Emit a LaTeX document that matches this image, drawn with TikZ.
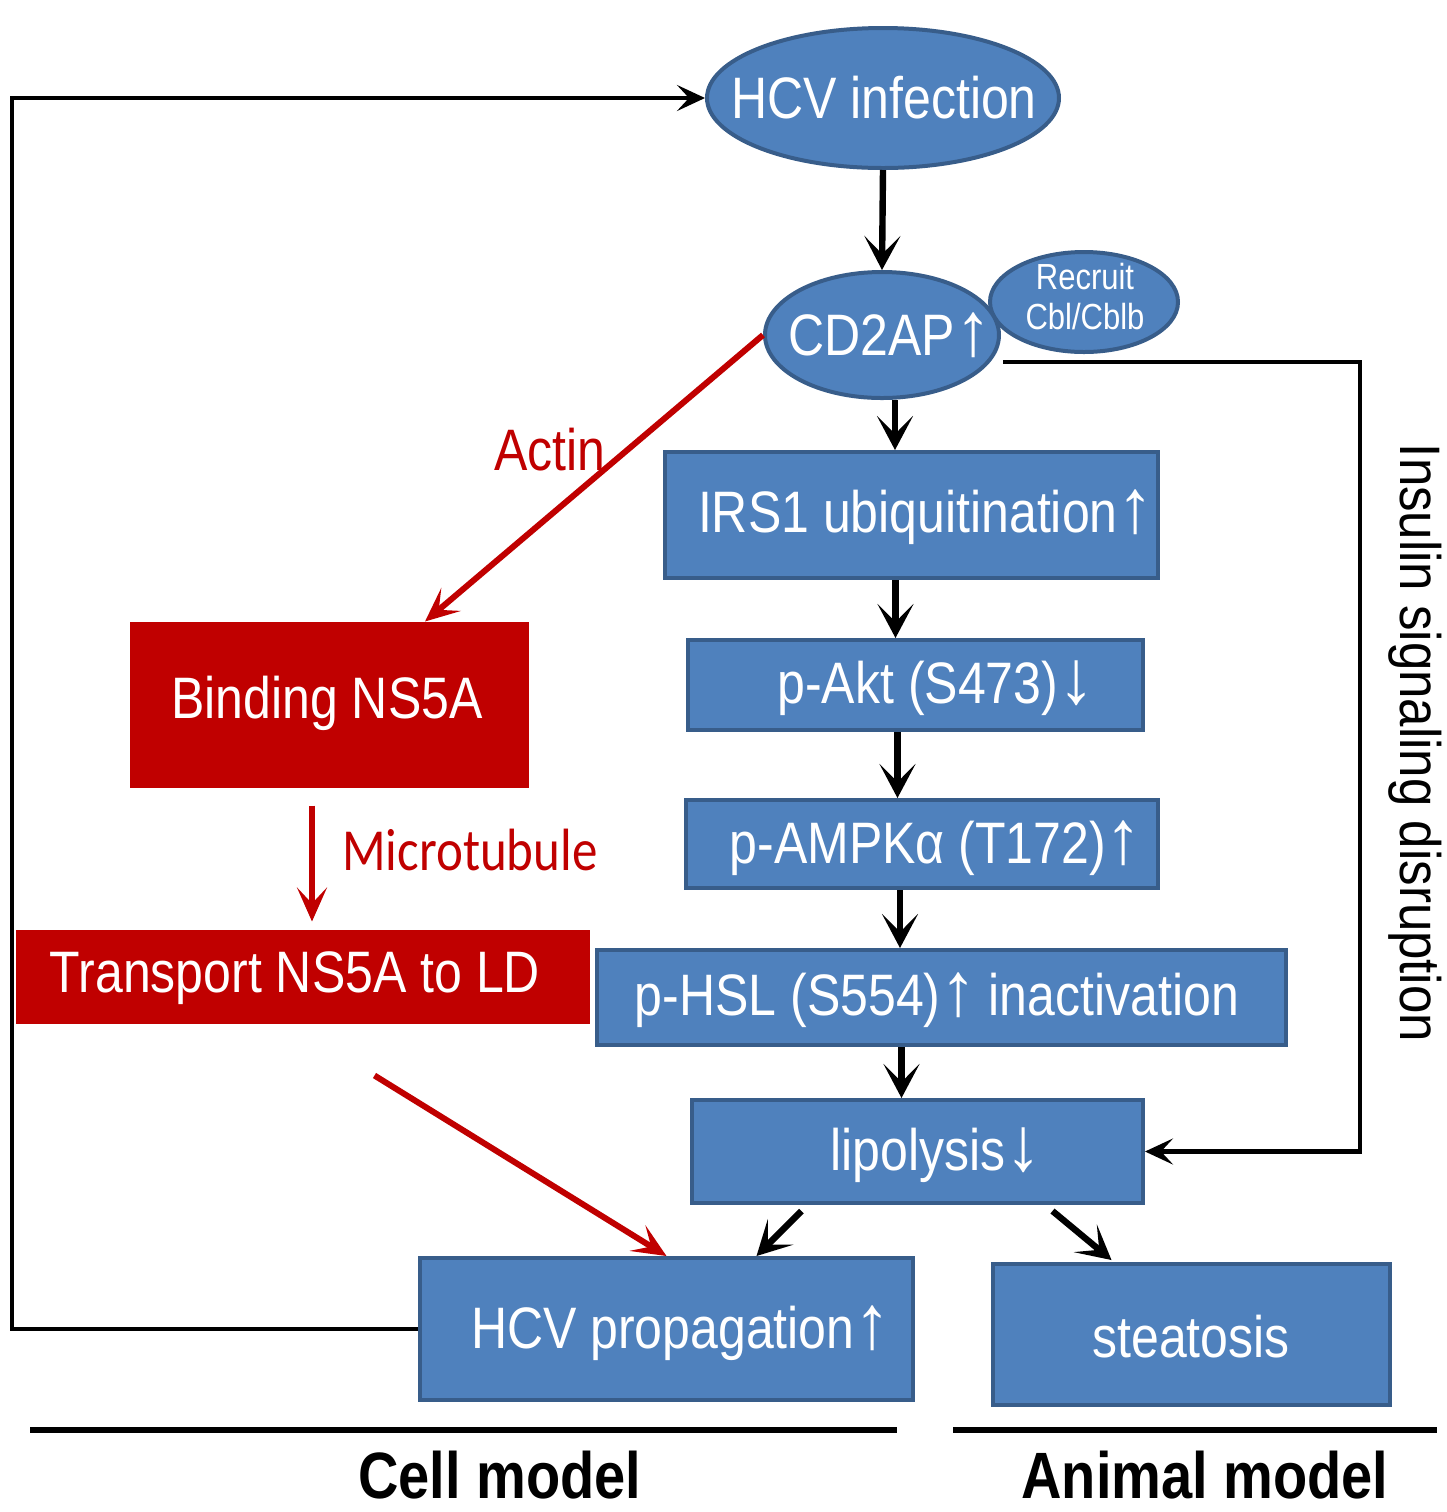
\documentclass[tikz,border=0pt]{standalone}
\usepackage{fontspec}
\setmainfont{Liberation Sans}
\newfontfamily\calibrifont{Carlito}
\usetikzlibrary{arrows.meta,shapes.geometric,calc}
\definecolor{boxblue}{HTML}{4F81BD}
\definecolor{boxline}{HTML}{385D8A}
\definecolor{darkred}{HTML}{C00000}
\newcommand{\tstr}[1]{\scalebox{1}[1.17]{#1}}
\newcommand{\uparr}{\scalebox{1.45}[1.3]{↑}}
\newcommand{\dnarr}{\scalebox{1.45}[1.3]{↓}}
\tikzset{
  bluebox/.style={draw=boxline,fill=boxblue,line width=2pt,rectangle,inner sep=0pt},
  blueell/.style={draw=boxline,fill=boxblue,line width=2pt,ellipse,inner sep=0pt},
  redbox/.style={draw=darkred,fill=darkred,line width=0.5pt,rectangle,inner sep=0pt},
  wtxt/.style={text=white,inner sep=0pt,font=\fontsize{25}{30}\selectfont},
  rtxt/.style={text=darkred,inner sep=0pt,font=\fontsize{25}{30}\selectfont},
  barrow/.style={draw=black,line width=3.2pt,-{Stealth[length=17pt,width=18pt,inset=9pt]}},
  rarrow/.style={draw=darkred,line width=3pt,-{Stealth[length=17pt,width=15pt,inset=8pt]}},
  tarrow/.style={draw=black,line width=2.2pt,-{Stealth[length=14pt,width=13pt,inset=6pt]}},
}
\begin{document}
\begin{tikzpicture}[x=0.5pt,y=-0.5pt]
\useasboundingbox[fill=white] (0,0) rectangle (1447,1512);

% blue shapes
\node[blueell,minimum width=176pt,minimum height=70pt] (hcv) at (883,98) {};
\node[blueell,minimum width=94pt,minimum height=50pt] (recruit) at (1084,302) {};
\node[blueell,minimum width=117pt,minimum height=63pt] (cd2ap) at (882,335) {};
\node[bluebox,minimum width=246.5pt,minimum height=63pt] (irs1) at (911.5,515) {};
\node[bluebox,minimum width=227.5pt,minimum height=45pt] (pakt) at (915.5,685) {};
\node[bluebox,minimum width=236pt,minimum height=44pt] (pampk) at (922,844) {};
\node[bluebox,minimum width=344.5pt,minimum height=47.5pt] (phsl) at (941.5,997.5) {};
\node[bluebox,minimum width=225.5pt,minimum height=51.5pt] (lipo) at (917.5,1151.5) {};
\node[bluebox,minimum width=246.5pt,minimum height=71pt] (prop) at (666.5,1329) {};
\node[bluebox,minimum width=198.5pt,minimum height=70.5pt] (steat) at (1191.5,1334.5) {};
\node[redbox,minimum width=199pt,minimum height=82.5pt] (bind) at (329,704.5) {};
\node[redbox,minimum width=286.5pt,minimum height=46.5pt] (trans) at (302.5,976.5) {};

% texts
\node[wtxt] (thcv) at (884,98) {\tstr{HCV infection}};
\node[wtxt] (tcd) at (890,335) {\tstr{CD2AP\uparr}};
\node[wtxt,font=\fontsize{15.5}{19}\selectfont,align=center] (trec) at (1085,297) {\tstr{Recruit}\\[1pt]\tstr{Cbl/Cblb}};
\node[wtxt] (tirs) at (926,517) {\tstr{IRS1 ubiquitination\uparr}};
\node[wtxt] (takt) at (936,688) {\tstr{p-Akt (S473)\dnarr}};
\node[wtxt] (tampk) at (936,848) {\tstr{p-AMPKα (T172)\uparr}};
\node[wtxt] (thsl) at (937,1000) {\tstr{p-HSL (S554)\uparr\hspace{6pt}inactivation}};
\node[wtxt] (tlipo) at (936,1155) {\tstr{lipolysis\dnarr}};
\node[wtxt] (tprop) at (681,1333) {\tstr{HCV propagation\uparr}};
\node[wtxt] (tsteat) at (1191,1337) {\tstr{steatosis}};
\node[wtxt] (tbind) at (327,703) {\tstr{Binding NS5A}};
\node[wtxt] (ttrans) at (295,978) {\tstr{Transport NS5A to LD}};
\node[rtxt] (tactin) at (550,450) {\tstr{Actin}};
\node[rtxt,font=\calibrifont\fontsize{25.5}{30}\selectfont] (tmicro) at (470,850) {\tstr{Microtubule}};
\node[inner sep=0pt,rotate=-90,font=\fontsize{25.5}{30}\selectfont] (tins) at (1415,743) {\scalebox{1}[1.12]{Insulin signaling disruption}};
\node[inner sep=0pt,font=\bfseries\fontsize{28}{32}\selectfont] (tcell) at (500,1475) {\tstr{Cell model}};
\node[inner sep=0pt,font=\bfseries\fontsize{28}{32}\selectfont] (tanim) at (1205,1475) {\tstr{Animal model}};

% black vertical chain
\draw[barrow] (hcv.south) -- (cd2ap.north);
\draw[barrow] ([xshift=6.5pt]cd2ap.south) -- ([xshift=6.5pt]cd2ap.south |- irs1.north);
\draw[barrow] ([xshift=-8pt]irs1.south) -- ([xshift=-8pt]irs1.south |- pakt.north);
\draw[barrow] ([xshift=-9pt]pakt.south) -- ([xshift=-9pt]pakt.south |- pampk.north);
\draw[barrow] ([xshift=-11pt]pampk.south) -- ([xshift=-11pt]pampk.south |- phsl.north);
\draw[barrow] ([xshift=-20pt]phsl.south) -- ([xshift=-20pt]phsl.south |- lipo.north);
\draw[barrow] ([xshift=-58pt,yshift=-3pt]lipo.south) -- ([xshift=45pt]prop.north);
\draw[barrow] ([xshift=67.5pt,yshift=-3pt]lipo.south) -- ([xshift=-40pt,yshift=1pt]steat.north);

% red arrows
\draw[rarrow] (cd2ap.west) -- ([xshift=48pt]bind.north);
\draw[rarrow] ([xshift=-8.5pt,yshift=-9pt]bind.south) -- ([xshift=-8.5pt,yshift=4pt]bind.south |- trans.north);
\draw[rarrow] ([xshift=36pt,yshift=-26pt]trans.south) -- (prop.north);

% feedback loop
\coordinate (lc) at (12,98);
\draw[tarrow] (prop.west) -- (prop.west -| lc) -- (lc) -- (hcv.west);

% insulin signaling line
\coordinate (rc) at (1360,362);
\draw[tarrow] ([xshift=1pt]rc -| cd2ap.east) -- (rc) -- (rc |- lipo.east) -- (lipo.east);

% bottom lines
\draw[line width=3pt] (30,1430) -- (897,1430);
\draw[line width=3pt] (953,1430) -- (1437,1430);
\end{tikzpicture}
\end{document}
